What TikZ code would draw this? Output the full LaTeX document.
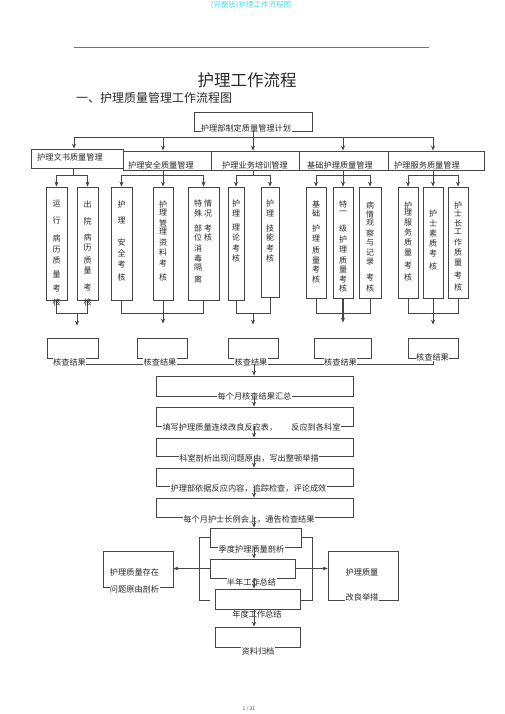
\documentclass[tikz,border=0pt]{standalone}
\usepackage{fontspec}
\setmainfont{Noto Sans CJK SC}
\usetikzlibrary{arrows.meta}
\definecolor{hdrcyan}{RGB}{70,225,230}
\definecolor{ink}{RGB}{40,40,40}
\definecolor{edge}{RGB}{70,70,70}
\newcommand\mkbox[5]{\node[box, minimum width={(#4-#2)*1pt}, minimum height={(#5-#3)*1pt}] (#1) at ({(#2+#4)/2},{(#3+#5)/2}) {};}
\newcommand\vcol[3]{\foreach \ch/\yy [count=\k] in {#3} {\node[vt] (#1-\k) at (#2,\yy) {\ch};}}
\begin{document}
\begin{tikzpicture}[x=1pt,y=-1pt,
  ln/.style={draw=edge, line width=0.75pt},
  box/.style={ln, rectangle, inner sep=0pt},
  arr/.style={ln, -{Stealth[length=5pt,width=4pt]}},
  txt/.style={font=\fontsize{8.2}{9}\selectfont, text=ink, inner sep=0.4pt},
  lbl/.style={txt, fill=white},
  vt/.style={font=\fontsize{8}{9}\selectfont, text=ink, inner sep=0pt},
]
\useasboundingbox (0,0) rectangle (505,714);

% header
\node[font=\fontsize{7.5}{8}\selectfont, text=hdrcyan, inner sep=0pt] (hdr) at (251,5) {(完整版)护理工作流程图};
\draw[draw=black!55, line width=0.6pt] (74,47) -- (429,47);
\node[font=\fontsize{16.5}{18}\selectfont, text=ink, inner sep=0pt] (title) at (247,80) {护理工作流程};
\node[font=\fontsize{12}{14}\selectfont, text=ink, anchor=west, inner sep=0pt] (sub) at (76,98) {一、护理质量管理工作流程图};
\node[font=\fontsize{5}{6}\selectfont, text=black!70, inner sep=0pt] (pg) at (249,709) {1 / 31};

% boxes
\mkbox{top}{194}{112}{312}{131}
\mkbox{wenshu}{31}{149}{123}{168}
\mkbox{anquan}{123}{151}{211}{170}
\mkbox{yewu}{211}{151}{299}{170}
\mkbox{jichu}{299}{151}{388}{170}
\mkbox{fuwu}{388}{151}{484}{170}

\mkbox{b1}{46}{187}{67}{300}
\mkbox{b2}{77}{187}{98}{300}
\mkbox{b3}{111}{187}{132}{300}
\mkbox{b4}{153}{187}{173}{300}
\mkbox{b5}{188}{187}{219}{300}
\mkbox{b6}{228}{187}{244}{300}
\mkbox{b7}{261}{187}{279}{297}
\mkbox{b8}{306}{187}{326}{298}
\mkbox{b9}{333}{187}{353}{298}
\mkbox{b10}{359}{187}{381}{298}
\mkbox{b11}{398}{187}{418}{298}
\mkbox{b12}{423}{187}{443}{298}
\mkbox{b13}{448}{187}{468}{298}

\mkbox{k1}{47}{338}{98}{358}
\mkbox{k2}{137}{338}{187}{358}
\mkbox{k3}{228}{338}{278}{358}
\mkbox{k4}{314}{338}{371}{358}
\mkbox{k5}{408}{338}{458}{358}

\mkbox{sA}{156}{376}{353}{396}
\mkbox{sB}{156}{407}{353}{426}
\mkbox{sC}{156}{438}{353}{456}
\mkbox{sD}{156}{468}{353}{486}
\mkbox{sE}{156}{498}{353}{517}
\mkbox{sF}{210}{528}{301}{547}
\mkbox{sG}{210}{559}{295}{578}
\mkbox{sH}{215}{589}{300}{609}
\mkbox{sI}{215}{627}{300}{647}
\mkbox{lb}{103}{551}{173}{587}
\mkbox{rb}{328}{551}{398}{600}

% top bus
\coordinate (busL) at (74,137);
\coordinate (busR) at (433,137);
\coordinate (p2) at (163,137);
\coordinate (p4) at (343,137);
\draw[ln] (busL) -- (busR);

% level-3 junctions
\coordinate (j1) at (73,175);
\coordinate (j2) at (163,175);
\coordinate (j3) at (253,175);
\coordinate (j4) at (343,175);
\coordinate (j5) at (433,175);
\draw[ln] (j1 |- wenshu.south) -- (j1);
\draw[ln] (j2 |- anquan.south) -- (j2);
\draw[ln] (j3 |- yewu.south) -- (j3);
\draw[ln] (j4 |- jichu.south) -- (j4);
\draw[ln] (j5 |- fuwu.south) -- (j5);
\draw[ln] (b1.north |- j1) -- (b2.north |- j1);
\draw[ln] (b3.north |- j2) -- (b5.north |- j2);
\draw[ln] (b6.north |- j3) -- (b7.north |- j3);
\draw[ln] (b8.north |- j4) -- (b10.north |- j4);
\draw[ln] (b11.north |- j5) -- (b13.north |- j5);

% bottom collectors
\coordinate (m1) at (77,313);
\coordinate (m2) at (163,313);
\coordinate (m3) at (253,313);
\coordinate (m4) at (343,313);
\coordinate (m5) at (432,313);
\draw[ln] (b1.south) |- (b2.south |- m1) -- (b2.south);
\draw[ln] (b3.south) |- (b5.south |- m2) -- (b5.south);
\draw[ln] (b6.south) |- (b7.south |- m3) -- (b7.south);
\draw[ln] (b8.south) |- (b10.south |- m4) -- (b10.south);
\draw[ln] (b11.south) |- (b13.south |- m5) -- (b13.south);

% results line
\coordinate (r0) at (254,364);
\draw[ln] (k1.south) |- (k5.south |- r0) -- (k5.south);

% brackets
\coordinate (brT) at (0,537);
\coordinate (brB) at (0,600);
\draw[ln] (sF.west |- brT) -- (199,537) -- (199,600) -- (210,600);
\draw[ln] (sF.east |- brT) -- (312,537) -- (312,600) -- (sH.east |- brB);

% labels
\node[lbl] (t-top) at (246,128) {护理部制定质量管理计划};
\node[txt] (t-wenshu) at (70,157) {护理文书质量管理};
\node[txt] (t-anquan) at (161,165) {护理安全质量管理};
\node[txt] (t-yewu) at (255,165) {护理业务培训管理};
\node[txt] (t-jichu) at (340,165) {基础护理质量管理};
\node[txt] (t-fuwu) at (427,165) {护理服务质量管理};

\node[lbl] (t-k1) at (69.5,362) {核查结果};
\node[lbl] (t-k2) at (160,362) {核查结果};
\node[lbl] (t-k3) at (251,362) {核查结果};
\node[lbl] (t-k4) at (340.5,362) {核查结果};
\node[lbl] (t-k5) at (432.5,357) {核查结果};

\node[lbl] (t-A) at (254.5,396) {每个月核查结果汇总};
\node[lbl] (t-B) at (251.5,427) {填写护理质量连续改良反应表，\hspace{14pt}反应到各科室};
\node[lbl] (t-C) at (249,458) {科室剖析出现问题原由，写出整顿举措};
\node[lbl] (t-D) at (248.5,488) {护理部依据反应内容，追踪检查，评论成效};
\node[lbl] (t-E) at (249,519) {每个月护士长例会上，通告检查结果};
\node[lbl] (t-F) at (251.5,549) {季度护理质量剖析};
\node[lbl] (t-G) at (251.5,582) {半年工作总结};
\node[lbl] (t-H) at (257,614) {年度工作总结};
\node[lbl] (t-I) at (258,651) {资料归档};
\node[txt] (t-lb1) at (134.5,572) {护理质量存在};
\node[lbl] (t-lb2) at (134.5,589) {问题原由剖析};
\node[txt] (t-rb1) at (362,572) {护理质量};
\node[lbl] (t-rb2) at (362,597) {改良举措};

% arrows from bus
\draw[arr] (busL) -- (busL |- wenshu.north);
\draw[arr] (p2) -- (p2 |- anquan.north);
\draw[arr] (top.south) -- (top.south |- yewu.north);
\draw[arr] (p4) -- (p4 |- jichu.north);
\draw[arr] (busR) -- (busR |- fuwu.north);

% arrows to level-3 boxes
\foreach \b/\j in {b1/j1,b2/j1,b3/j2,b4/j2,b5/j2,b6/j3,b7/j3,b8/j4,b9/j4,b10/j4,b11/j5,b12/j5,b13/j5}
  \draw[arr] (\b.north |- \j) -- (\b.north);

% arrows to result boxes
\draw[arr, shorten >=12pt] (m1) -- (m1 |- k1.north);
\draw[arr, shorten >=14pt] (b4.south) -- (b4.south |- k2.north);
\draw[arr, shorten >=13pt] (m3) -- (m3 |- k3.north);
\draw[arr, line width=1.1pt, shorten >=15pt] (b9.south) -- (b9.south |- k4.north);
\draw[arr, shorten >=13pt] (b12.south) -- (b12.south |- k5.north);

% central column
\coordinate (cx) at (254,0);
\draw[arr] (r0) -- (r0 |- sA.north);
\draw[arr] (sA.south -| cx) -- (sB.north -| cx);
\draw[arr] (sB.south -| cx) -- (sC.north -| cx);
\draw[arr] (sC.south -| cx) -- (sD.north -| cx);
\draw[arr] (sD.south -| cx) -- (sE.north -| cx);
\draw[arr] (sE.south -| cx) -- (sF.north -| cx);
\draw[arr] (sF.south -| cx) -- (sG.north -| cx);
\draw[arr] (sG.south -| cx) -- (sH.north -| cx);
\draw[arr] (sH.south -| cx) -- (sI.north -| cx);
\draw[arr, line width=1.1pt] (sG.west) -- (sG.west -| lb.east);
\draw[arr, line width=1.1pt] (sG.east) -- (sG.east -| rb.west);

% vertical texts
\vcol{v1}{56.5}{运/204,行/220,病/238,历/250,质/260,量/274,考/288,核/302}
\vcol{v2}{87.5}{出/204,院/221,病/237,历/248,质/260,量/270,考/287,核/302}
\vcol{v3}{121.5}{护/204,理/221,安/242,全/253,考/264,核/277}
\vcol{v4}{163}{护/204,理/213,管/223,理/232,资/242,料/252,考/263,核/277}
\vcol{v5a}{198}{特/203,殊/214,部/228,位/237,消/248,毒/258,隔/268,离/279}
\vcol{v5b}{208}{情/203,况/214,考/228,核/237}
\vcol{v6}{236}{护/203,理/214,理/228,论/237,考/248,核/258}
\vcol{v7}{270}{护/203,理/214,技/228,能/237,考/248,核/258}
\vcol{v8}{316}{基/204,础/213,护/228,理/239,质/250,量/260,考/269,核/279}
\vcol{v9}{343}{特/204,一/213,级/228,护/239,理/250,质/260,量/269,考/279,核/288}
\vcol{v10}{370}{病/205,情/214,观/223,察/233,与/243,记/252,录/262,考/277,核/288}
\vcol{v11}{408}{护/205,理/213,服/223,务/232,质/242,量/252,考/265,核/277}
\vcol{v12}{433}{护/213,士/223,素/233,质/243,考/253,核/266}
\vcol{v13}{458}{护/205,士/213,长/223,工/232,作/242,质/252,量/262,考/275,核/287}
\end{tikzpicture}
\end{document}
